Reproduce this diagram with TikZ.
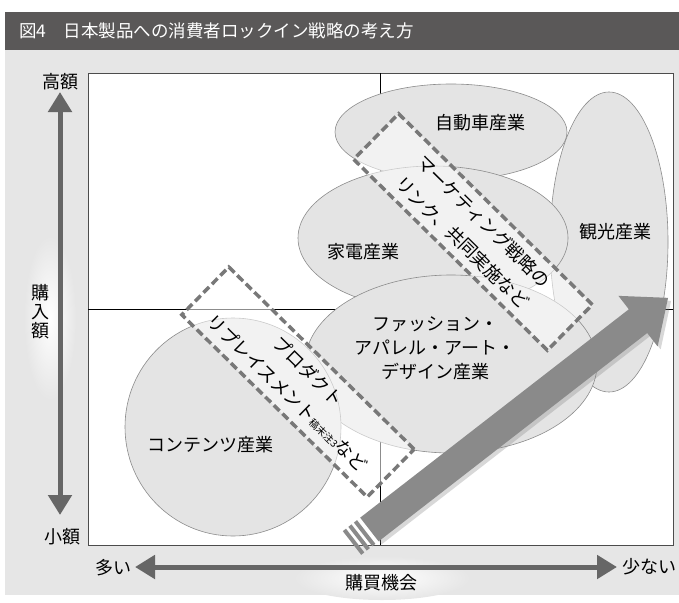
\documentclass[tikz,border=0pt]{standalone}
\usepackage{fontspec}
\setmainfont{Noto Sans CJK JP}
\usetikzlibrary{shapes.geometric,arrows.meta,shadows}
\definecolor{titlegray}{RGB}{90,88,88}
\definecolor{bggray}{RGB}{230,230,230}
\definecolor{blobgray}{RGB}{228,228,228}
\definecolor{blobline}{RGB}{140,140,140}
\definecolor{dashgray}{RGB}{120,120,120}
\definecolor{axisgray}{RGB}{102,102,102}
\definecolor{arrowgray}{RGB}{138,138,138}
\begin{document}
\begin{tikzpicture}[
        x=1pt, y=-1pt,
        font=\fontsize{18}{22}\selectfont
    ]
    \tikzset{
        blob/.style = {ellipse, draw=blobline, fill=blobgray, line width=0.6pt, inner sep=0pt},
        lbl/.style = {inner sep=0pt, align=center},
        dashbox/.style = {rectangle, draw=dashgray, line width=3.5pt, dash pattern=on 8pt off 4pt,
            fill=white, fill opacity=0.55, text opacity=1, align=center, inner sep=0pt},
        axisline/.style = {draw=axisgray, line width=5pt,
            {Triangle[length=20pt,width=23pt]}-{Triangle[length=20pt,width=23pt]}},
        glow/.style = {inner color=white, outer color=bggray},
    }
    \useasboundingbox (0,0) rectangle (679,602);
    % background and title
    \fill[bggray] (5,50) rectangle (679,595);
    \fill[titlegray] (5,12) rectangle (679,50);
    \node[anchor=west, text=white, inner sep=0pt, font=\fontsize{17.5}{20}\selectfont] (title) at (19,31)
        {図4　日本製品への消費者ロックイン戦略の考え方};
    \shade[glow] (50,318) ellipse [x radius=26, y radius=82];
    \shade[glow] (382,578) ellipse [x radius=88, y radius=22];
    % plot area
    \draw[fill=white, draw=black!70, line width=0.8pt] (88,73) rectangle (673,545);
    \draw[line width=0.6pt] (380,73) -- (380,545);
    \draw[line width=0.6pt] (88,309) -- (673,309);
    %
    \node[blob, minimum width=118, minimum height=300] (kankoblob) at (609,242) {};
    \node[blob, minimum width=232, minimum height=96] (jidoshablob) at (451,132) {};
    \node[blob, minimum width=270, minimum height=144] (kadenblob) at (433,238) {};
    \node[blob, minimum width=292, minimum height=178] (fashionblob) at (451,364) {};
    \node[blob, minimum width=216, minimum height=218] (contentblob) at (233,427) {};
    %
    \node[lbl] (kanko) at (615,232) {観光産業};
    \node[lbl] (jidosha) at (480,123) {自動車産業};
    \node[lbl] (kaden) at (363,252) {家電産業};
    \node[lbl, font=\fontsize{18}{24}\selectfont] (fashion) at (435,348)
        {ファッション・\\アパレル・アート・\\デザイン産業};
    \node[lbl] (content) at (210,445) {コンテンツ産業};
    %
    \node[dashbox, rotate=-44.6, minimum width=272, minimum height=64] (mkt) at (473,232)
        {マーケティング戦略の\\[8pt]リンク、共同実施など};
    \node[dashbox, rotate=-44.5, minimum width=260, minimum height=67] (prod) at (298,382)
        {プロダクト\\[8pt]リプレイスメント{\fontsize{10}{12}\selectfont 稿末注3}など};
    % big arrow
    \begin{scope}[shift={(352,543)}, rotate=37.8]
        \fill[arrowgray, drop shadow={opacity=0.3, shadow xshift=3pt, shadow yshift=-3pt}]
            (22,-15) -- (362,-15) -- (362,-32) -- (400,0) -- (362,32) -- (362,15) -- (22,15) -- cycle;
        \foreach \s in {0,7,14}
            \fill[arrowgray] (\s,-15) rectangle (\s+4,15);
    \end{scope}
    % axes
    \node[lbl] (hi) at (60,82) {高額};
    \node[lbl] (lo) at (62,537) {小額};
    \node[lbl, font=\fontsize{18}{19}\selectfont] (amount) at (40,312) {購\\入\\額};
    \node[lbl] (many) at (113,568) {多い};
    \node[lbl] (few) at (649,567) {少ない};
    \node[lbl] (chance) at (381,583) {購買機会};
    \coordinate (vtop) at (60,92);
    \coordinate (vbot) at (60,515);
    \coordinate (hleft) at (135,567);
    \coordinate (hright) at (617,567);
    \draw[axisline] (vtop) -- (vbot);
    \draw[axisline] (hleft) -- (hright);
\end{tikzpicture}
\end{document}
